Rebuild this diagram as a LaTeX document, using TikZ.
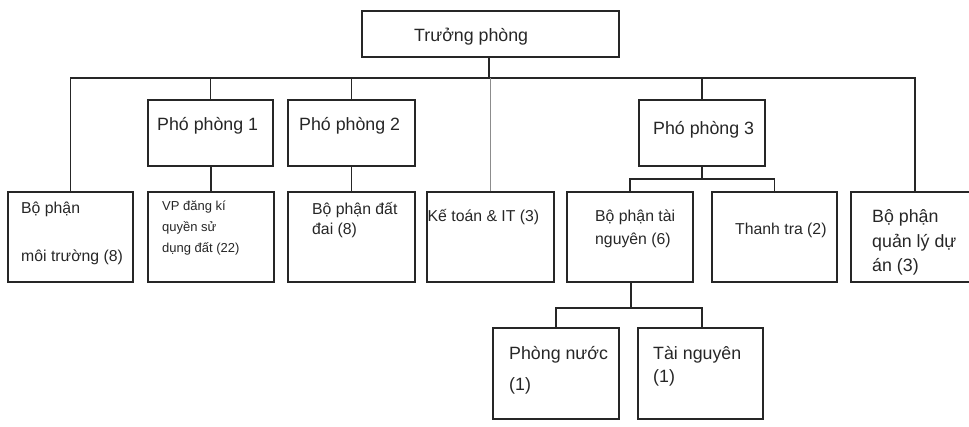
\documentclass[tikz,border=0pt]{standalone}
\usepackage{fontspec}
\setmainfont{Liberation Sans}
\begin{document}
\begin{tikzpicture}[x=1pt,y=-1pt,
  box/.style={draw=black!85,line width=1.3pt,inner sep=0pt,minimum width=#1},
  conn/.style={draw=black!85,line width=1.2pt},
  lbl/.style={anchor=base west,inner sep=0pt,text=black!85},
  f18/.style={font=\fontsize{17.8}{21}\selectfont},
  f16/.style={font=\fontsize{15.8}{20}\selectfont},
  f13/.style={font=\fontsize{13}{16}\selectfont}]
\useasboundingbox (0,0) rectangle (969,427);
% boxes
\node[box=257pt,minimum height=46pt] (tp) at (490.5,34) {};
\node[box=125pt,minimum height=66pt] (pp1) at (210.5,133) {};
\node[box=127pt,minimum height=66pt] (pp2) at (351.5,133) {};
\node[box=126pt,minimum height=66pt] (pp3) at (702,133) {};
\node[box=125pt,minimum height=90pt] (mt) at (70.5,237) {};
\node[box=126pt,minimum height=90pt] (vp) at (211,237) {};
\node[box=127pt,minimum height=90pt] (dd) at (351.5,237) {};
\node[box=127pt,minimum height=90pt] (kt) at (490.5,237) {};
\node[box=126pt,minimum height=90pt] (tn) at (630,237) {};
\node[box=125pt,minimum height=90pt] (tt) at (774.5,237) {};
\node[box=128pt,minimum height=90pt] (ql) at (915,237) {};
\node[box=126pt,minimum height=91pt] (pn) at (556,373.5) {};
\node[box=125pt,minimum height=91pt] (tn1) at (700.5,373.5) {};
% texts
\node[lbl,f18] (ttp) at (414,42) {Trưởng phòng};
\node[lbl,f18] (tpp1) at (157,131) {Phó phòng 1};
\node[lbl,f18] (tpp2) at (299,131) {Phó phòng 2};
\node[lbl,f18] (tpp3) at (653,135) {Phó phòng 3};
\node[lbl,f16] (tmt1) at (21,214) {Bộ phận};
\node[lbl,f16] (tmt2) at (21,262) {môi trường (8)};
\node[lbl,f13] (tvp1) at (162,211) {VP đăng kí};
\node[lbl,f13] (tvp2) at (162,232) {quyền sử};
\node[lbl,f13] (tvp3) at (162,253) {dụng đất (22)};
\node[lbl,f16] (tdd1) at (312,215) {Bộ phận đất};
\node[lbl,f16] (tdd2) at (312,235) {đai (8)};
\node[lbl,f16] (tkt) at (427.5,222) {Kế toán \& IT (3)};
\node[lbl,f16] (ttn1) at (595,222) {Bộ phận tài};
\node[lbl,f16] (ttn2) at (595,245) {nguyên (6)};
\node[lbl,f16] (ttt) at (735,235) {Thanh tra (2)};
\node[lbl,f18] (tql1) at (872,223) {Bộ phận};
\node[lbl,f18] (tql2) at (872,248) {quản lý dự};
\node[lbl,f18] (tql3) at (872,272) {án (3)};
\node[lbl,f18] (tpn1) at (509,360) {Phòng nước};
\node[lbl,f18] (tpn2) at (509,391) {(1)};
\node[lbl,f18] (ttn11) at (653,360) {Tài nguyên};
\node[lbl,f18] (ttn12) at (653,383) {(1)};
% connectors
\coordinate (bus) at (0,78);
\coordinate (sub3) at (0,179);
\coordinate (subtn) at (0,308);
\draw[conn] (tp.south -| 489,0) -- (489,78);
\draw[conn] (mt.north) -- (mt.north |- bus) -- (ql.north |- bus) -- (ql.north);
\draw[conn] (pp1.north) -- (pp1.north |- bus);
\draw[conn] (pp2.north) -- (pp2.north |- bus);
\draw[conn] (pp3.north) -- (pp3.north |- bus);
\draw[draw=black!45,line width=1.3pt] (kt.north) -- (kt.north |- bus);
\draw[conn] (pp1.south -| vp.north) -- (vp.north);
\draw[conn] (pp2.south) -- (dd.north);
\draw[conn] (pp3.south) -- (pp3.south |- sub3);
\draw[conn] (tn.north) -- (tn.north |- sub3) -- (tt.north |- sub3) -- (tt.north);
\draw[conn] (tn.south -| 631,0) -- (631,308);
\draw[conn] (pn.north) -- (pn.north |- subtn) -- (702,308) -- (tn1.north -| 702,0);
\end{tikzpicture}
\end{document}
